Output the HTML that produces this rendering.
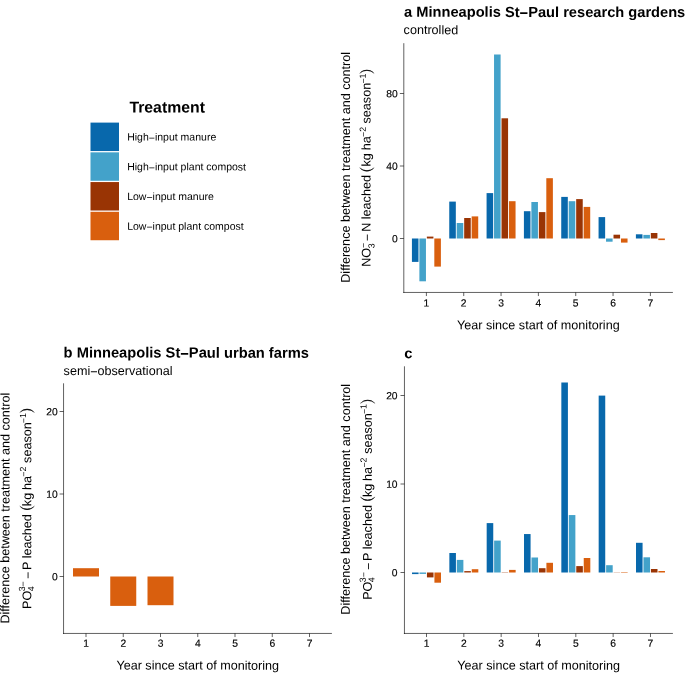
<!DOCTYPE html>
<html><head><meta charset="utf-8"><style>
html,body{margin:0;padding:0;background:#fff;}
svg{display:block;will-change:transform;text-rendering:geometricPrecision;font-family:"Liberation Sans", sans-serif;fill:#000;}
text{fill:#000;} .tk{stroke:#000;stroke-width:0.15px;}
</style></head><body>
<svg width="685" height="681" viewBox="0 0 685 681">
<rect width="685" height="681" fill="#fff"/>
<line x1="403.80" y1="43.20" x2="403.80" y2="292.95" stroke="rgba(0,0,0,0.62)" stroke-width="1.0"/>
<line x1="403.30" y1="292.45" x2="672.90" y2="292.45" stroke="rgba(0,0,0,0.62)" stroke-width="1.0"/>
<line x1="426.40" y1="292.45" x2="426.40" y2="296.05" stroke="rgba(0,0,0,0.62)" stroke-width="1.0"/>
<text transform="rotate(0.05 426.40 306.60)" x="426.40" y="306.60" font-size="10.3" text-anchor="middle" font-weight="normal" class="tk">1</text>
<line x1="463.73" y1="292.45" x2="463.73" y2="296.05" stroke="rgba(0,0,0,0.62)" stroke-width="1.0"/>
<text transform="rotate(0.05 463.73 306.60)" x="463.73" y="306.60" font-size="10.3" text-anchor="middle" font-weight="normal" class="tk">2</text>
<line x1="501.06" y1="292.45" x2="501.06" y2="296.05" stroke="rgba(0,0,0,0.62)" stroke-width="1.0"/>
<text transform="rotate(0.05 501.06 306.60)" x="501.06" y="306.60" font-size="10.3" text-anchor="middle" font-weight="normal" class="tk">3</text>
<line x1="538.39" y1="292.45" x2="538.39" y2="296.05" stroke="rgba(0,0,0,0.62)" stroke-width="1.0"/>
<text transform="rotate(0.05 538.39 306.60)" x="538.39" y="306.60" font-size="10.3" text-anchor="middle" font-weight="normal" class="tk">4</text>
<line x1="575.72" y1="292.45" x2="575.72" y2="296.05" stroke="rgba(0,0,0,0.62)" stroke-width="1.0"/>
<text transform="rotate(0.05 575.72 306.60)" x="575.72" y="306.60" font-size="10.3" text-anchor="middle" font-weight="normal" class="tk">5</text>
<line x1="613.05" y1="292.45" x2="613.05" y2="296.05" stroke="rgba(0,0,0,0.62)" stroke-width="1.0"/>
<text transform="rotate(0.05 613.05 306.60)" x="613.05" y="306.60" font-size="10.3" text-anchor="middle" font-weight="normal" class="tk">6</text>
<line x1="650.38" y1="292.45" x2="650.38" y2="296.05" stroke="rgba(0,0,0,0.62)" stroke-width="1.0"/>
<text transform="rotate(0.05 650.38 306.60)" x="650.38" y="306.60" font-size="10.3" text-anchor="middle" font-weight="normal" class="tk">7</text>
<line x1="399.85" y1="238.50" x2="403.80" y2="238.50" stroke="rgba(0,0,0,0.62)" stroke-width="1.0"/>
<text transform="rotate(0.05 397.65 242.15)" x="397.65" y="242.15" font-size="10.3" text-anchor="end" font-weight="normal" class="tk">0</text>
<line x1="399.85" y1="166.00" x2="403.80" y2="166.00" stroke="rgba(0,0,0,0.62)" stroke-width="1.0"/>
<text transform="rotate(0.05 397.65 169.65)" x="397.65" y="169.65" font-size="10.3" text-anchor="end" font-weight="normal" class="tk">40</text>
<line x1="399.85" y1="93.50" x2="403.80" y2="93.50" stroke="rgba(0,0,0,0.62)" stroke-width="1.0"/>
<text transform="rotate(0.05 397.65 97.15)" x="397.65" y="97.15" font-size="10.3" text-anchor="end" font-weight="normal" class="tk">80</text>
<text transform="rotate(0.05 538.35 329.30)" x="538.35" y="329.30" font-size="12.6" text-anchor="middle" font-weight="normal" >Year since start of monitoring</text>
<text transform="translate(349.90,167.35) rotate(-89.95)" font-size="12.6" text-anchor="middle">Difference between treatment and control</text>
<rect x="411.92" y="238.50" width="6.57" height="23.40" fill="#0868ac"/>
<rect x="419.38" y="238.50" width="6.57" height="42.80" fill="#43a2ca"/>
<rect x="426.85" y="236.60" width="6.57" height="1.90" fill="#993404"/>
<rect x="434.32" y="238.50" width="6.57" height="28.10" fill="#d95f0e"/>
<rect x="449.25" y="201.60" width="6.57" height="36.90" fill="#0868ac"/>
<rect x="456.71" y="223.00" width="6.57" height="15.50" fill="#43a2ca"/>
<rect x="464.18" y="218.00" width="6.57" height="20.50" fill="#993404"/>
<rect x="471.65" y="216.40" width="6.57" height="22.10" fill="#d95f0e"/>
<rect x="486.58" y="193.10" width="6.57" height="45.40" fill="#0868ac"/>
<rect x="494.04" y="54.50" width="6.57" height="184.00" fill="#43a2ca"/>
<rect x="501.51" y="118.30" width="6.57" height="120.20" fill="#993404"/>
<rect x="508.98" y="201.20" width="6.57" height="37.30" fill="#d95f0e"/>
<rect x="523.91" y="211.20" width="6.57" height="27.30" fill="#0868ac"/>
<rect x="531.37" y="202.00" width="6.57" height="36.50" fill="#43a2ca"/>
<rect x="538.84" y="212.10" width="6.57" height="26.40" fill="#993404"/>
<rect x="546.31" y="178.20" width="6.57" height="60.30" fill="#d95f0e"/>
<rect x="561.24" y="196.90" width="6.57" height="41.60" fill="#0868ac"/>
<rect x="568.70" y="201.20" width="6.57" height="37.30" fill="#43a2ca"/>
<rect x="576.17" y="199.10" width="6.57" height="39.40" fill="#993404"/>
<rect x="583.64" y="206.90" width="6.57" height="31.60" fill="#d95f0e"/>
<rect x="598.57" y="217.10" width="6.57" height="21.40" fill="#0868ac"/>
<rect x="606.03" y="238.50" width="6.57" height="3.20" fill="#43a2ca"/>
<rect x="613.50" y="234.70" width="6.57" height="3.80" fill="#993404"/>
<rect x="620.97" y="238.50" width="6.57" height="4.10" fill="#d95f0e"/>
<rect x="635.90" y="234.30" width="6.57" height="4.20" fill="#0868ac"/>
<rect x="643.36" y="234.90" width="6.57" height="3.60" fill="#43a2ca"/>
<rect x="650.83" y="233.00" width="6.57" height="5.50" fill="#993404"/>
<rect x="658.30" y="238.50" width="6.57" height="1.60" fill="#d95f0e"/>
<text transform="rotate(0.05 404.10 16.80)" x="404.10" y="16.80" font-size="14.65" text-anchor="start" font-weight="bold" >a Minneapolis St<tspan dy="1.17">−</tspan><tspan dy="-1.17">Paul research gardens</tspan></text>
<text transform="rotate(0.05 403.60 34.10)" x="403.60" y="34.10" font-size="12.6" text-anchor="start" font-weight="normal" >controlled</text>
<line x1="63.55" y1="383.30" x2="63.55" y2="633.95" stroke="rgba(0,0,0,0.62)" stroke-width="1.0"/>
<line x1="63.05" y1="633.45" x2="331.90" y2="633.45" stroke="rgba(0,0,0,0.62)" stroke-width="1.0"/>
<line x1="86.00" y1="633.45" x2="86.00" y2="637.05" stroke="rgba(0,0,0,0.62)" stroke-width="1.0"/>
<text transform="rotate(0.05 86.00 646.80)" x="86.00" y="646.80" font-size="10.3" text-anchor="middle" font-weight="normal" class="tk">1</text>
<line x1="123.25" y1="633.45" x2="123.25" y2="637.05" stroke="rgba(0,0,0,0.62)" stroke-width="1.0"/>
<text transform="rotate(0.05 123.25 646.80)" x="123.25" y="646.80" font-size="10.3" text-anchor="middle" font-weight="normal" class="tk">2</text>
<line x1="160.50" y1="633.45" x2="160.50" y2="637.05" stroke="rgba(0,0,0,0.62)" stroke-width="1.0"/>
<text transform="rotate(0.05 160.50 646.80)" x="160.50" y="646.80" font-size="10.3" text-anchor="middle" font-weight="normal" class="tk">3</text>
<line x1="197.75" y1="633.45" x2="197.75" y2="637.05" stroke="rgba(0,0,0,0.62)" stroke-width="1.0"/>
<text transform="rotate(0.05 197.75 646.80)" x="197.75" y="646.80" font-size="10.3" text-anchor="middle" font-weight="normal" class="tk">4</text>
<line x1="235.00" y1="633.45" x2="235.00" y2="637.05" stroke="rgba(0,0,0,0.62)" stroke-width="1.0"/>
<text transform="rotate(0.05 235.00 646.80)" x="235.00" y="646.80" font-size="10.3" text-anchor="middle" font-weight="normal" class="tk">5</text>
<line x1="272.25" y1="633.45" x2="272.25" y2="637.05" stroke="rgba(0,0,0,0.62)" stroke-width="1.0"/>
<text transform="rotate(0.05 272.25 646.80)" x="272.25" y="646.80" font-size="10.3" text-anchor="middle" font-weight="normal" class="tk">6</text>
<line x1="309.50" y1="633.45" x2="309.50" y2="637.05" stroke="rgba(0,0,0,0.62)" stroke-width="1.0"/>
<text transform="rotate(0.05 309.50 646.80)" x="309.50" y="646.80" font-size="10.3" text-anchor="middle" font-weight="normal" class="tk">7</text>
<line x1="59.60" y1="576.50" x2="63.55" y2="576.50" stroke="rgba(0,0,0,0.62)" stroke-width="1.0"/>
<text transform="rotate(0.05 57.75 580.15)" x="57.75" y="580.15" font-size="10.3" text-anchor="end" font-weight="normal" class="tk">0</text>
<line x1="59.60" y1="494.00" x2="63.55" y2="494.00" stroke="rgba(0,0,0,0.62)" stroke-width="1.0"/>
<text transform="rotate(0.05 57.75 497.65)" x="57.75" y="497.65" font-size="10.3" text-anchor="end" font-weight="normal" class="tk">10</text>
<line x1="59.60" y1="411.50" x2="63.55" y2="411.50" stroke="rgba(0,0,0,0.62)" stroke-width="1.0"/>
<text transform="rotate(0.05 57.75 415.15)" x="57.75" y="415.15" font-size="10.3" text-anchor="end" font-weight="normal" class="tk">20</text>
<text transform="rotate(0.05 197.72 669.60)" x="197.72" y="669.60" font-size="12.6" text-anchor="middle" font-weight="normal" >Year since start of monitoring</text>
<text transform="translate(9.40,508.15) rotate(-89.95)" font-size="12.6" text-anchor="middle">Difference between treatment and control</text>
<rect x="73.00" y="568.20" width="26.00" height="8.30" fill="#d95f0e"/>
<rect x="110.25" y="576.50" width="26.00" height="29.40" fill="#d95f0e"/>
<rect x="147.50" y="576.50" width="26.00" height="28.70" fill="#d95f0e"/>
<text transform="rotate(0.05 63.60 357.50)" x="63.60" y="357.50" font-size="14.7" text-anchor="start" font-weight="bold" >b Minneapolis St<tspan dy="1.18">−</tspan><tspan dy="-1.18">Paul urban farms</tspan></text>
<text transform="rotate(0.05 63.60 374.90)" x="63.60" y="374.90" font-size="12.6" text-anchor="start" font-weight="normal" >semi<tspan dy="1.01">−</tspan><tspan dy="-1.01">observational</tspan></text>
<line x1="404.45" y1="366.30" x2="404.45" y2="633.95" stroke="rgba(0,0,0,0.62)" stroke-width="1.0"/>
<line x1="403.95" y1="633.45" x2="672.90" y2="633.45" stroke="rgba(0,0,0,0.62)" stroke-width="1.0"/>
<line x1="426.50" y1="633.45" x2="426.50" y2="637.05" stroke="rgba(0,0,0,0.62)" stroke-width="1.0"/>
<text transform="rotate(0.05 426.50 646.80)" x="426.50" y="646.80" font-size="10.3" text-anchor="middle" font-weight="normal" class="tk">1</text>
<line x1="463.83" y1="633.45" x2="463.83" y2="637.05" stroke="rgba(0,0,0,0.62)" stroke-width="1.0"/>
<text transform="rotate(0.05 463.83 646.80)" x="463.83" y="646.80" font-size="10.3" text-anchor="middle" font-weight="normal" class="tk">2</text>
<line x1="501.16" y1="633.45" x2="501.16" y2="637.05" stroke="rgba(0,0,0,0.62)" stroke-width="1.0"/>
<text transform="rotate(0.05 501.16 646.80)" x="501.16" y="646.80" font-size="10.3" text-anchor="middle" font-weight="normal" class="tk">3</text>
<line x1="538.49" y1="633.45" x2="538.49" y2="637.05" stroke="rgba(0,0,0,0.62)" stroke-width="1.0"/>
<text transform="rotate(0.05 538.49 646.80)" x="538.49" y="646.80" font-size="10.3" text-anchor="middle" font-weight="normal" class="tk">4</text>
<line x1="575.82" y1="633.45" x2="575.82" y2="637.05" stroke="rgba(0,0,0,0.62)" stroke-width="1.0"/>
<text transform="rotate(0.05 575.82 646.80)" x="575.82" y="646.80" font-size="10.3" text-anchor="middle" font-weight="normal" class="tk">5</text>
<line x1="613.15" y1="633.45" x2="613.15" y2="637.05" stroke="rgba(0,0,0,0.62)" stroke-width="1.0"/>
<text transform="rotate(0.05 613.15 646.80)" x="613.15" y="646.80" font-size="10.3" text-anchor="middle" font-weight="normal" class="tk">6</text>
<line x1="650.48" y1="633.45" x2="650.48" y2="637.05" stroke="rgba(0,0,0,0.62)" stroke-width="1.0"/>
<text transform="rotate(0.05 650.48 646.80)" x="650.48" y="646.80" font-size="10.3" text-anchor="middle" font-weight="normal" class="tk">7</text>
<line x1="400.50" y1="572.50" x2="404.45" y2="572.50" stroke="rgba(0,0,0,0.62)" stroke-width="1.0"/>
<text transform="rotate(0.05 397.60 576.15)" x="397.60" y="576.15" font-size="10.3" text-anchor="end" font-weight="normal" class="tk">0</text>
<line x1="400.50" y1="484.00" x2="404.45" y2="484.00" stroke="rgba(0,0,0,0.62)" stroke-width="1.0"/>
<text transform="rotate(0.05 397.60 487.65)" x="397.60" y="487.65" font-size="10.3" text-anchor="end" font-weight="normal" class="tk">10</text>
<line x1="400.50" y1="395.50" x2="404.45" y2="395.50" stroke="rgba(0,0,0,0.62)" stroke-width="1.0"/>
<text transform="rotate(0.05 397.60 399.15)" x="397.60" y="399.15" font-size="10.3" text-anchor="end" font-weight="normal" class="tk">20</text>
<text transform="rotate(0.05 538.67 669.60)" x="538.67" y="669.60" font-size="12.6" text-anchor="middle" font-weight="normal" >Year since start of monitoring</text>
<text transform="translate(349.90,499.25) rotate(-89.95)" font-size="12.6" text-anchor="middle">Difference between treatment and control</text>
<rect x="412.02" y="572.50" width="6.57" height="1.60" fill="#0868ac"/>
<rect x="419.48" y="572.50" width="6.57" height="1.40" fill="#43a2ca"/>
<rect x="426.95" y="572.50" width="6.57" height="4.90" fill="#993404"/>
<rect x="434.42" y="572.50" width="6.57" height="10.20" fill="#d95f0e"/>
<rect x="449.35" y="553.00" width="6.57" height="19.50" fill="#0868ac"/>
<rect x="456.81" y="559.90" width="6.57" height="12.60" fill="#43a2ca"/>
<rect x="464.28" y="571.10" width="6.57" height="1.40" fill="#993404"/>
<rect x="471.75" y="569.20" width="6.57" height="3.30" fill="#d95f0e"/>
<rect x="486.68" y="523.10" width="6.57" height="49.40" fill="#0868ac"/>
<rect x="494.14" y="540.60" width="6.57" height="31.90" fill="#43a2ca"/>
<rect x="501.61" y="572.20" width="6.57" height="0.30" fill="#993404"/>
<rect x="509.08" y="569.90" width="6.57" height="2.60" fill="#d95f0e"/>
<rect x="524.01" y="534.05" width="6.57" height="38.45" fill="#0868ac"/>
<rect x="531.47" y="557.50" width="6.57" height="15.00" fill="#43a2ca"/>
<rect x="538.94" y="568.20" width="6.57" height="4.30" fill="#993404"/>
<rect x="546.41" y="562.80" width="6.57" height="9.70" fill="#d95f0e"/>
<rect x="561.34" y="382.50" width="6.57" height="190.00" fill="#0868ac"/>
<rect x="568.80" y="515.06" width="6.57" height="57.44" fill="#43a2ca"/>
<rect x="576.27" y="566.10" width="6.57" height="6.40" fill="#993404"/>
<rect x="583.74" y="558.00" width="6.57" height="14.50" fill="#d95f0e"/>
<rect x="598.67" y="395.60" width="6.57" height="176.90" fill="#0868ac"/>
<rect x="606.13" y="565.20" width="6.57" height="7.30" fill="#43a2ca"/>
<rect x="613.60" y="572.30" width="6.57" height="0.20" fill="#993404"/>
<rect x="621.07" y="572.50" width="6.57" height="0.50" fill="#d95f0e"/>
<rect x="636.00" y="542.80" width="6.57" height="29.70" fill="#0868ac"/>
<rect x="643.46" y="557.30" width="6.57" height="15.20" fill="#43a2ca"/>
<rect x="650.93" y="569.00" width="6.57" height="3.50" fill="#993404"/>
<rect x="658.40" y="571.00" width="6.57" height="1.50" fill="#d95f0e"/>
<text transform="rotate(0.05 404.20 358.30)" x="404.20" y="358.30" font-size="14.65" text-anchor="start" font-weight="bold" >c</text>
<text transform="translate(370.60,257.30) rotate(-89.95)" x="0" y="0" font-size="12.6" text-anchor="middle" >NO</text>
<text transform="translate(374.60,245.90) rotate(-89.95)" x="0" y="0" font-size="8.8" text-anchor="middle" >3</text>
<text transform="translate(366.50,245.45) rotate(-89.95)" x="0" y="0" font-size="8.8" text-anchor="middle" >−</text>
<text transform="translate(371.60,237.65) rotate(-89.95)" x="0" y="0" font-size="12.6" text-anchor="middle" >−</text>
<text transform="translate(370.60,203.45) rotate(-89.95)" x="0" y="0" font-size="12.6" text-anchor="middle" >N leached</text>
<text transform="translate(370.60,159.90) rotate(-89.95)" x="0" y="0" font-size="12.6" text-anchor="middle" >kg</text>
<text transform="translate(370.60,143.35) rotate(-89.95)" x="0" y="0" font-size="12.6" text-anchor="middle" >ha</text>
<text transform="translate(365.75,131.90) rotate(-89.95)" x="0" y="0" font-size="8.8" text-anchor="middle" ><tspan dy="0.8">−</tspan><tspan dy="-0.8">2</tspan></text>
<text transform="translate(370.60,103.15) rotate(-89.95)" x="0" y="0" font-size="12.6" text-anchor="middle" >season</text>
<text transform="translate(365.75,78.50) rotate(-89.95)" x="0" y="0" font-size="8.8" text-anchor="middle" ><tspan dy="0.8">−</tspan><tspan dy="-0.8">1</tspan></text>
<path d="M359.90,168.00 A9.90,9.90 0 0 0 373.90,168.00" fill="none" stroke="#111" stroke-width="0.55" stroke-linecap="round"/>
<path d="M359.90,168.00 A8.83,8.83 0 0 0 373.90,168.00 A11.60,11.60 0 0 1 359.90,168.00 Z" fill="#111"/>
<path d="M359.90,73.10 A9.90,9.90 0 0 1 373.90,73.10" fill="none" stroke="#111" stroke-width="0.55" stroke-linecap="round"/>
<path d="M359.90,73.10 A8.83,8.83 0 0 1 373.90,73.10 A11.60,11.60 0 0 0 359.90,73.10 Z" fill="#111"/>
<text transform="translate(371.80,590.70) rotate(-89.95)" x="0" y="0" font-size="12.6" text-anchor="middle" >PO</text>
<text transform="translate(365.70,577.25) rotate(-89.95)" x="0" y="0" font-size="8.8" text-anchor="middle" >3<tspan dy="1.0">−</tspan></text>
<text transform="translate(374.50,579.75) rotate(-89.95)" x="0" y="0" font-size="8.8" text-anchor="middle" >4</text>
<text transform="translate(372.80,566.35) rotate(-89.95)" x="0" y="0" font-size="12.6" text-anchor="middle" >−</text>
<text transform="translate(371.80,533.00) rotate(-89.95)" x="0" y="0" font-size="12.6" text-anchor="middle" >P leached</text>
<text transform="translate(371.80,490.40) rotate(-89.95)" x="0" y="0" font-size="12.6" text-anchor="middle" >kg</text>
<text transform="translate(371.80,474.00) rotate(-89.95)" x="0" y="0" font-size="12.6" text-anchor="middle" >ha</text>
<text transform="translate(366.50,462.60) rotate(-89.95)" x="0" y="0" font-size="8.8" text-anchor="middle" ><tspan dy="0.8">−</tspan><tspan dy="-0.8">2</tspan></text>
<text transform="translate(371.80,433.50) rotate(-89.95)" x="0" y="0" font-size="12.6" text-anchor="middle" >season</text>
<text transform="translate(366.50,409.10) rotate(-89.95)" x="0" y="0" font-size="8.8" text-anchor="middle" ><tspan dy="0.8">−</tspan><tspan dy="-0.8">1</tspan></text>
<path d="M360.60,497.30 A9.90,9.90 0 0 0 374.80,497.30" fill="none" stroke="#111" stroke-width="0.55" stroke-linecap="round"/>
<path d="M360.60,497.30 A8.87,8.87 0 0 0 374.80,497.30 A11.51,11.51 0 0 1 360.60,497.30 Z" fill="#111"/>
<path d="M360.60,403.10 A10.40,10.40 0 0 1 374.80,403.10" fill="none" stroke="#111" stroke-width="0.55" stroke-linecap="round"/>
<path d="M360.60,403.10 A9.20,9.20 0 0 1 374.80,403.10 A12.33,12.33 0 0 0 360.60,403.10 Z" fill="#111"/>
<text transform="translate(31.20,599.80) rotate(-89.95)" x="0" y="0" font-size="12.6" text-anchor="middle" >PO</text>
<text transform="translate(25.10,586.35) rotate(-89.95)" x="0" y="0" font-size="8.8" text-anchor="middle" >3<tspan dy="1.0">−</tspan></text>
<text transform="translate(33.90,588.85) rotate(-89.95)" x="0" y="0" font-size="8.8" text-anchor="middle" >4</text>
<text transform="translate(32.20,575.45) rotate(-89.95)" x="0" y="0" font-size="12.6" text-anchor="middle" >−</text>
<text transform="translate(31.20,542.10) rotate(-89.95)" x="0" y="0" font-size="12.6" text-anchor="middle" >P leached</text>
<text transform="translate(31.20,499.50) rotate(-89.95)" x="0" y="0" font-size="12.6" text-anchor="middle" >kg</text>
<text transform="translate(31.20,483.10) rotate(-89.95)" x="0" y="0" font-size="12.6" text-anchor="middle" >ha</text>
<text transform="translate(25.90,471.70) rotate(-89.95)" x="0" y="0" font-size="8.8" text-anchor="middle" ><tspan dy="0.8">−</tspan><tspan dy="-0.8">2</tspan></text>
<text transform="translate(31.20,442.60) rotate(-89.95)" x="0" y="0" font-size="12.6" text-anchor="middle" >season</text>
<text transform="translate(25.90,418.20) rotate(-89.95)" x="0" y="0" font-size="8.8" text-anchor="middle" ><tspan dy="0.8">−</tspan><tspan dy="-0.8">1</tspan></text>
<path d="M20.00,506.40 A9.90,9.90 0 0 0 34.20,506.40" fill="none" stroke="#111" stroke-width="0.55" stroke-linecap="round"/>
<path d="M20.00,506.40 A8.87,8.87 0 0 0 34.20,506.40 A11.51,11.51 0 0 1 20.00,506.40 Z" fill="#111"/>
<path d="M20.00,412.20 A10.40,10.40 0 0 1 34.20,412.20" fill="none" stroke="#111" stroke-width="0.55" stroke-linecap="round"/>
<path d="M20.00,412.20 A9.20,9.20 0 0 1 34.20,412.20 A12.33,12.33 0 0 0 20.00,412.20 Z" fill="#111"/>
<text transform="rotate(0.05 129.40 112.45)" x="129.40" y="112.45" font-size="15.8" text-anchor="start" font-weight="bold" >Treatment</text>
<rect x="90.50" y="122.60" width="28.50" height="28.45" fill="#0868ac"/>
<text transform="rotate(0.05 127.20 140.56)" x="127.20" y="140.56" font-size="10.5" text-anchor="start" font-weight="normal" >High<tspan dy="0.84">−</tspan><tspan dy="-0.84">input manure</tspan></text>
<rect x="90.50" y="152.33" width="28.50" height="28.45" fill="#43a2ca"/>
<text transform="rotate(0.05 127.20 170.29)" x="127.20" y="170.29" font-size="10.5" text-anchor="start" font-weight="normal" >High<tspan dy="0.84">−</tspan><tspan dy="-0.84">input plant compost</tspan></text>
<rect x="90.50" y="182.06" width="28.50" height="28.45" fill="#993404"/>
<text transform="rotate(0.05 127.20 200.02)" x="127.20" y="200.02" font-size="10.5" text-anchor="start" font-weight="normal" >Low<tspan dy="0.84">−</tspan><tspan dy="-0.84">input manure</tspan></text>
<rect x="90.50" y="211.79" width="28.50" height="28.45" fill="#d95f0e"/>
<text transform="rotate(0.05 127.20 229.75)" x="127.20" y="229.75" font-size="10.5" text-anchor="start" font-weight="normal" >Low<tspan dy="0.84">−</tspan><tspan dy="-0.84">input plant compost</tspan></text>
</svg>
</body></html>
